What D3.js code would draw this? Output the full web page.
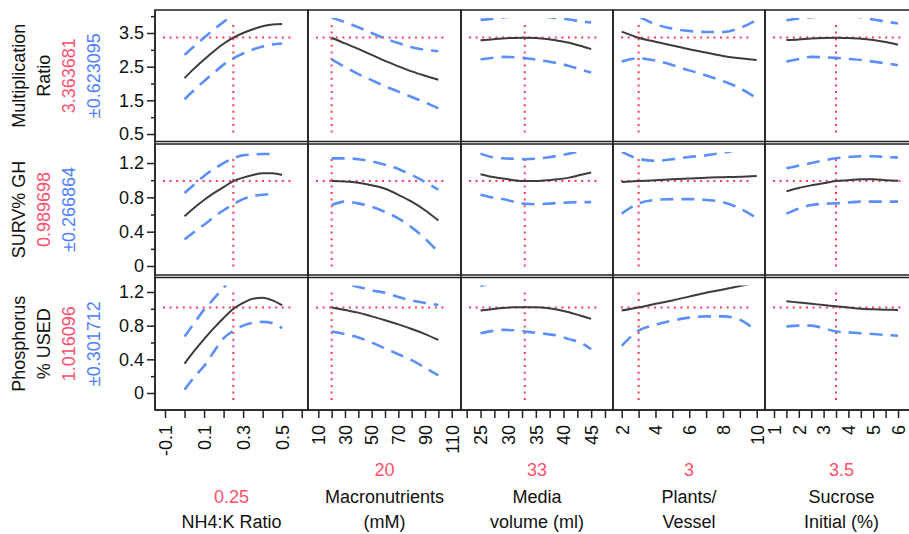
<!DOCTYPE html>
<html>
<head>
<meta charset="utf-8">
<script src="https://cdn.jsdelivr.net/npm/d3@7/dist/d3.min.js"></script>
<style>
  html, body { margin: 0; padding: 0; background: #fff; }
  svg { display: block; }
  text { font-family: 'Liberation Sans', Arial, Helvetica, sans-serif; }
</style>
</head>
<body>
<svg id="chart" width="909" height="534"></svg>
<script>
// ---------------- DATA ----------------
// factors (columns)
const factorLines = [["NH4:K Ratio"], ["Macronutrients", "(mM)"], ["Media", "volume (ml)"], ["Plants/", "Vessel"], ["Sucrose", "Initial (%)"]];
const factorCurrent = [0.25, 20, 33, 3, 3.5];
const factorCurrentLabel = ["0.25", "20", "33", "3", "3.5"];
const xTicks = [
  [-0.1, 0, 0.1, 0.2, 0.3, 0.4, 0.5, 0.6],
  [10, 20, 30, 40, 50, 60, 70, 80, 90, 100, 110],
  [22.5, 25, 27.5, 30, 32.5, 35, 37.5, 40, 42.5, 45, 47.5],
  [2, 3, 4, 5, 6, 7, 8, 9, 10],
  [1, 1.5, 2, 2.5, 3, 3.5, 4, 4.5, 5, 5.5, 6]
];
const xTickLabels = [
  ["-0.1", "0.1", "0.3", "0.5"],
  ["10", "30", "50", "70", "90", "110"],
  ["25", "30", "35", "40", "45"],
  ["2", "4", "6", "8", "10"],
  ["1", "2", "3", "4", "5", "6"]
];
const xDomains = [[-0.1512, 0.6322], [2.279, 116.97], [21.47, 48.95], [1.484, 10.49], [0.637, 6.806]];

// responses (rows)
const responseLines = [["Multiplication", "Ratio"], ["SURV% GH"], ["Phosphorus", "% USED"]];
const responseCurrent = [3.363681, 0.989698, 1.016096];
const responseCurrentLabel = ["3.363681", "0.989698", "1.016096"];
const responseCI = ["±0.623095", "±0.266864", "±0.301712"];
const yMajorTicks = [[0.5, 1.5, 2.5, 3.5], [0, 0.4, 0.8, 1.2], [0, 0.4, 0.8, 1.2]];
const yMinorTicks = [[1, 2, 3, 4], [0.2, 0.6, 1.0], [0.2, 0.6, 1.0]];
const yTickLabels = [["0.5", "1.5", "2.5", "3.5"], ["0", "0.4", "0.8", "1.2"], ["0", "0.4", "0.8", "1.2"]];
const yDomains = [[0.278, 4.183], [-0.105, 1.422], [-0.202, 1.372]];

// x grids for profile curves, one per factor
const gridNH4 = [0, 0.05, 0.1, 0.15, 0.2, 0.25, 0.3, 0.35, 0.4, 0.45, 0.5];
const gridMacro = [20, 30, 40, 50, 60, 70, 80, 90, 100];
const gridMedia = [25, 27, 29, 31, 33, 35, 37, 39, 41, 43, 45];
const gridPlants = [2, 3, 4, 5, 6, 7, 8, 9, 10];
const gridSucrose = [1.5, 2, 2.5, 3, 3.5, 4, 4.5, 5, 5.5, 6];

// Multiplication Ratio
const multPred = [
  [2.16, 2.45, 2.71, 2.96, 3.18, 3.36, 3.5, 3.61, 3.7, 3.75, 3.77],
  [3.36, 3.19, 3.03, 2.85, 2.67, 2.51, 2.36, 2.23, 2.11],
  [3.28, 3.31, 3.34, 3.355, 3.36, 3.35, 3.32, 3.27, 3.21, 3.12, 3.02],
  [3.54, 3.36, 3.24, 3.13, 3.02, 2.92, 2.82, 2.75, 2.7],
  [3.29, 3.31, 3.34, 3.355, 3.36, 3.35, 3.33, 3.29, 3.23, 3.15]
];
const multUpper = [
  [2.85, 3.11, 3.36, 3.6, 3.83, 4.04, null, null, null, null, null],
  [3.96, 3.82, 3.67, 3.5, 3.34, 3.2, 3.08, 3.0, 2.96],
  [3.89, 3.92, 3.96, 3.99, 4.0, 4.0, 3.98, 3.94, 3.9, 3.85, 3.81],
  [4.25, 3.99, 3.76, 3.63, 3.56, 3.53, 3.53, 3.65, 3.89],
  [3.88, 3.93, 3.97, 4.0, 4.01, 4.0, 3.97, 3.9, 3.84, 3.78]
];
const multLower = [
  [1.53, 1.81, 2.07, 2.32, 2.56, 2.75, 2.89, 3.01, 3.1, 3.16, 3.19],
  [2.72, 2.49, 2.28, 2.1, 1.92, 1.76, 1.6, 1.44, 1.26],
  [2.72, 2.76, 2.79, 2.78, 2.76, 2.71, 2.66, 2.6, 2.52, 2.42, 2.33],
  [2.65, 2.75, 2.68, 2.55, 2.39, 2.24, 2.07, 1.86, 1.56],
  [2.65, 2.73, 2.79, 2.78, 2.76, 2.73, 2.7, 2.65, 2.6, 2.54]
];

// SURV% GH
const survPred = [
  [0.58, 0.68, 0.77, 0.85, 0.92, 0.99, 1.03, 1.06, 1.08, 1.08, 1.06],
  [0.99, 0.985, 0.97, 0.94, 0.9, 0.83, 0.75, 0.65, 0.53],
  [1.07, 1.04, 1.02, 1.0, 0.99, 0.99, 1.0, 1.01, 1.03, 1.06, 1.09],
  [0.98, 0.99, 1.0, 1.01, 1.02, 1.03, 1.035, 1.04, 1.05],
  [0.87, 0.91, 0.94, 0.965, 0.99, 1.0, 1.01, 1.01, 1.0, 0.995]
];
const survUpper = [
  [0.85, 0.95, 1.05, 1.13, 1.2, 1.255, 1.29, 1.3, 1.305, 1.305, null],
  [1.255, 1.255, 1.245, 1.22, 1.18, 1.13, 1.06, 0.98, 0.89],
  [1.31, 1.27, 1.255, 1.25, 1.245, 1.25, 1.265, 1.285, 1.31, 1.34, 1.38],
  [1.33, 1.25, 1.225, 1.245, 1.27, 1.29, 1.32, 1.36, 1.41],
  [1.14, 1.17, 1.2, 1.23, 1.255, 1.27, 1.28, 1.28, 1.27, 1.265]
];
const survLower = [
  [0.31, 0.4, 0.48, 0.57, 0.65, 0.72, 0.78, 0.815, 0.83, 0.84, null],
  [0.71, 0.75, 0.73, 0.69, 0.63, 0.555, 0.45, 0.32, 0.16],
  [0.83, 0.8, 0.78, 0.75, 0.725, 0.72, 0.725, 0.735, 0.74, 0.745, 0.745],
  [0.61, 0.73, 0.77, 0.78, 0.78, 0.77, 0.745, 0.67, 0.56],
  [0.61, 0.67, 0.71, 0.725, 0.73, 0.74, 0.75, 0.75, 0.75, 0.75]
];

// Phosphorus % USED
const phosPred = [
  [0.35, 0.5, 0.64, 0.77, 0.89, 1.0, 1.07, 1.12, 1.13, 1.1, 1.04],
  [1.016, 0.985, 0.955, 0.91, 0.865, 0.815, 0.76, 0.7, 0.63],
  [0.98, 0.995, 1.01, 1.018, 1.02, 1.018, 1.01, 0.99, 0.96, 0.92, 0.88],
  [0.98, 1.016, 1.06, 1.1, 1.145, 1.19, 1.23, 1.27, 1.31],
  [1.09, 1.075, 1.06, 1.045, 1.03, 1.015, 1.0, 0.995, 0.99, 0.985]
];
const phosUpper = [
  [0.67, 0.83, 0.99, 1.12, 1.25, 1.38, null, null, null, null, null],
  [1.33, 1.3, 1.26, 1.22, 1.19, 1.14, 1.1, 1.07, 1.045],
  [1.27, 1.31, null, null, null, null, null, null, null, null, null],
  [null, null, null, null, null, null, null, null, null],
  [null, null, null, null, null, null, null, null, null, null]
];
const phosLower = [
  [0.04, 0.19, 0.32, 0.49, 0.65, 0.74, 0.8, 0.835, 0.845, 0.83, 0.77],
  [0.73, 0.7, 0.66, 0.6, 0.53, 0.46, 0.39, 0.3, 0.21],
  [0.71, 0.735, 0.75, 0.745, 0.73, 0.715, 0.7, 0.68, 0.64, 0.6, 0.52],
  [0.56, 0.74, 0.81, 0.86, 0.895, 0.91, 0.91, 0.87, 0.73],
  [0.79, 0.8, 0.8, 0.77, 0.73, 0.72, 0.71, 0.7, 0.69, 0.68]
];

// ---------------- LAYOUT ----------------
const grids = [gridNH4, gridMacro, gridMedia, gridPlants, gridSucrose];
const preds = [multPred, survPred, phosPred];
const uppers = [multUpper, survUpper, phosUpper];
const lowers = [multLower, survLower, phosLower];

const colX = [155, 308, 461, 613, 765, 918];
const rowY = [[10, 141.5], [144, 275], [277.5, 410]];
const RED = "#ff3a5c", REDTXT = "#ff4f6d", BLUE = "#5b8ffa", BLUETXT = "#4f80ff", INK = "#3c3c3c";
const FS = 18;

const svg = d3.select("#chart");
svg.append("rect").attr("width", 909).attr("height", 534).attr("fill", "#fff");

const xScales = xDomains.map((d, c) => d3.scaleLinear().domain(d).range([colX[c], colX[c + 1]]));
const yScales = yDomains.map((d, r) => d3.scaleLinear().domain(d).range([rowY[r][1], rowY[r][0]]));

const defs = svg.append("defs");

for (let r = 0; r < 3; r++) {
  for (let c = 0; c < 5; c++) {
    const xs = xScales[c], ys = yScales[r];
    const x0 = colX[c], x1 = colX[c + 1], y0 = rowY[r][0], y1 = rowY[r][1];
    const cid = `clip-${r}-${c}`;
    defs.append("clipPath").attr("id", cid)
      .append("rect").attr("x", x0 + 1).attr("y", y0 + 8).attr("width", x1 - x0 - 2).attr("height", y1 - y0 - 8);

    const g = svg.append("g");
    g.append("rect").attr("x", x0).attr("y", y0).attr("width", x1 - x0).attr("height", y1 - y0)
      .attr("fill", "#fff").attr("stroke", "#222").attr("stroke-width", 1.5);

    // crosshair (current settings)
    const hy = ys(responseCurrent[r]);
    g.append("line").attr("x1", x0 + 8).attr("x2", x1 - 13).attr("y1", hy).attr("y2", hy)
      .attr("stroke", RED).attr("stroke-width", 2).attr("stroke-dasharray", "2 4.6");
    const vx = xs(factorCurrent[c]);
    g.append("line").attr("x1", vx).attr("x2", vx).attr("y1", y0 + 15).attr("y2", y1 - 7)
      .attr("stroke", RED).attr("stroke-width", 2).attr("stroke-dasharray", "2 4.6");

    const grid = grids[c];
    const line = d3.line()
      .defined(d => d[1] != null)
      .x(d => xs(d[0])).y(d => ys(d[1]))
      .curve(d3.curveMonotoneX);
    const pts = arr => grid.map((x, i) => [x, arr[i]]);

    const cg = g.append("g").attr("clip-path", `url(#${cid})`);
    [uppers[r][c], lowers[r][c]].forEach(arr => {
      cg.append("path").attr("d", line(pts(arr))).attr("fill", "none")
        .attr("stroke", BLUE).attr("stroke-width", 2.6).attr("stroke-dasharray", "13 8");
    });
    cg.append("path").attr("d", line(pts(preds[r][c]))).attr("fill", "none")
      .attr("stroke", INK).attr("stroke-width", 2);
  }
}

// full-height column separators
colX.forEach(x => {
  svg.append("line").attr("x1", x).attr("x2", x).attr("y1", 10).attr("y2", 410)
    .attr("stroke", "#222").attr("stroke-width", 1.5);
});

// y axes
for (let r = 0; r < 3; r++) {
  const ys = yScales[r];
  const major = svg.append("g").attr("transform", "translate(155,0)")
    .call(d3.axisLeft(ys).tickValues(yMajorTicks[r]).tickSize(8).tickPadding(3)
      .tickFormat((d, i) => yTickLabels[r][i]));
  const minor = svg.append("g").attr("transform", "translate(155,0)")
    .call(d3.axisLeft(ys).tickValues(yMinorTicks[r]).tickSize(4).tickFormat(""));
  [major, minor].forEach(a => {
    a.select(".domain").remove();
    a.selectAll("line").attr("stroke", "#222").attr("stroke-width", 1.5);
  });
  major.selectAll("text").attr("font-size", FS).attr("fill", "#111")
    .attr("font-family", "'Liberation Sans', Arial, sans-serif");
}

// x axes
for (let c = 0; c < 5; c++) {
  const xs = xScales[c];
  const labels = xTickLabels[c];
  const ax = svg.append("g").attr("transform", "translate(0,410)")
    .call(d3.axisBottom(xs).tickValues(xTicks[c]).tickSize(8)
      .tickFormat(d => { const s = String(d); return labels.includes(s) ? s : ""; }));
  ax.select(".domain").remove();
  ax.selectAll("line").attr("stroke", "#222").attr("stroke-width", 1.5);
  ax.selectAll("text")
    .attr("font-size", FS).attr("fill", "#111")
    .attr("font-family", "'Liberation Sans', Arial, sans-serif")
    .attr("transform", "rotate(-90)")
    .attr("x", -15).attr("y", 0).attr("dy", "0.35em")
    .style("text-anchor", "end");
}
svg.append("line").attr("x1", 155).attr("x2", 909).attr("y1", 410).attr("y2", 410)
  .attr("stroke", "#222").attr("stroke-width", 1.5);

// factor labels
const baselines = [528, 503, 476];
for (let c = 0; c < 5; c++) {
  const cx = (colX[c] + Math.min(colX[c + 1], 918)) / 2;
  const lines = factorLines[c].slice().reverse();
  lines.forEach((t, i) => {
    svg.append("text").attr("x", cx).attr("y", baselines[i]).attr("text-anchor", "middle")
      .attr("font-size", FS).attr("fill", "#111").text(t);
  });
  svg.append("text").attr("x", cx).attr("y", baselines[lines.length]).attr("text-anchor", "middle")
    .attr("font-size", FS).attr("fill", REDTXT).text(factorCurrentLabel[c]);
}

// response labels (rotated)
for (let r = 0; r < 3; r++) {
  const cy = (rowY[r][0] + rowY[r][1]) / 2;
  const items = responseLines[r].map(t => ({ t, col: "#111" }))
    .concat([{ t: responseCurrentLabel[r], col: REDTXT }, { t: responseCI[r], col: BLUETXT }]);
  items.forEach((it, i) => {
    svg.append("text")
      .attr("transform", `translate(${19 + i * 25},${cy}) rotate(-90)`)
      .attr("text-anchor", "middle").attr("dy", "0.35em")
      .attr("font-size", FS).attr("fill", it.col).text(it.t);
  });
}
</script>
</body>
</html>
